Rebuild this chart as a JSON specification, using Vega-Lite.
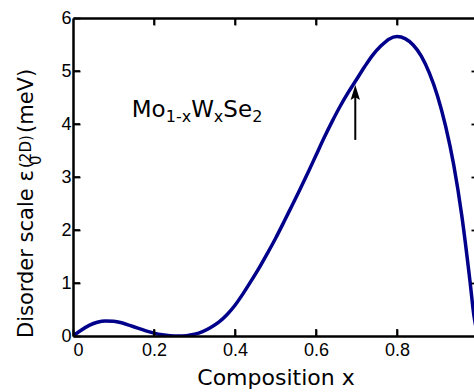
{
  "$schema": "https://vega.github.io/schema/vega-lite/v6.json",
  "width": 405,
  "height": 318,
  "autosize": "none",
  "padding": {"left": 73, "top": 18, "right": 0, "bottom": 56},
  "background": "white",
  "config": {
    "view": {"stroke": null},
    "axis": {"grid": false}
  },
  "datasets": {
    "curve": [
      {"x": 0, "y": 0}, {"x": 0.02, "y": 0.11}, {"x": 0.04, "y": 0.2}, {"x": 0.06, "y": 0.26},
      {"x": 0.08, "y": 0.285}, {"x": 0.1, "y": 0.28}, {"x": 0.12, "y": 0.25}, {"x": 0.14, "y": 0.2},
      {"x": 0.16, "y": 0.148}, {"x": 0.18, "y": 0.098}, {"x": 0.2, "y": 0.055}, {"x": 0.22, "y": 0.023},
      {"x": 0.24, "y": 0.005}, {"x": 0.26, "y": 0.0}, {"x": 0.28, "y": 0.006}, {"x": 0.3, "y": 0.032},
      {"x": 0.32, "y": 0.082}, {"x": 0.34, "y": 0.16}, {"x": 0.36, "y": 0.26}, {"x": 0.38, "y": 0.4},
      {"x": 0.4, "y": 0.58}, {"x": 0.42, "y": 0.8}, {"x": 0.44, "y": 1.04}, {"x": 0.46, "y": 1.29},
      {"x": 0.48, "y": 1.56}, {"x": 0.5, "y": 1.84}, {"x": 0.52, "y": 2.14}, {"x": 0.54, "y": 2.45},
      {"x": 0.56, "y": 2.76}, {"x": 0.58, "y": 3.08}, {"x": 0.6, "y": 3.41}, {"x": 0.62, "y": 3.74},
      {"x": 0.64, "y": 4.05}, {"x": 0.66, "y": 4.34}, {"x": 0.68, "y": 4.6}, {"x": 0.7, "y": 4.84},
      {"x": 0.72, "y": 5.08}, {"x": 0.74, "y": 5.3}, {"x": 0.76, "y": 5.47}, {"x": 0.78, "y": 5.6},
      {"x": 0.8, "y": 5.65}, {"x": 0.82, "y": 5.61}, {"x": 0.84, "y": 5.49}, {"x": 0.86, "y": 5.28},
      {"x": 0.88, "y": 4.96}, {"x": 0.9, "y": 4.53}, {"x": 0.92, "y": 3.96}, {"x": 0.94, "y": 3.23},
      {"x": 0.96, "y": 2.27}, {"x": 0.98, "y": 1.05}, {"x": 0.99, "y": 0.38}, {"x": 1.0, "y": 0}
    ],
    "arrow": [{"x": 0.697, "y0": 3.7, "y1": 4.56}],
    "tickvals_x": [{"v": 0.2}, {"v": 0.4}, {"v": 0.6}, {"v": 0.8}],
    "tickvals_y": [{"v": 1}, {"v": 2}, {"v": 3}, {"v": 4}, {"v": 5}],
    "ylab_main": [
      {"t": "Disorder scale ε", "x": -0.0976, "y": -0.038},
      {"t": "(meV)", "x": -0.0976, "y": 3.83}
    ],
    "ylab_small": [
      {"t": "0", "x": -0.078, "y": 3.226},
      {"t": "(2D)", "x": -0.1038, "y": 3.17}
    ],
    "formula_main": [
      {"t": "Mo", "x": 0.1451, "y": 4.13},
      {"t": "W", "x": 0.2917, "y": 4.13},
      {"t": "Se", "x": 0.3712, "y": 4.13}
    ],
    "formula_sub": [
      {"t": "1-x", "x": 0.2289, "y": 4.03},
      {"t": "x", "x": 0.3478, "y": 4.03},
      {"t": "2", "x": 0.4424, "y": 4.03}
    ]
  },
  "layer": [
    {
      "data": {"name": "curve"},
      "mark": {"type": "line", "color": "#00008B", "strokeWidth": 3.5, "interpolate": "monotone", "clip": true},
      "encoding": {
        "x": {"field": "x", "type": "quantitative", "scale": {"domain": [0, 1]},
          "axis": {"orient": "bottom", "values": [0, 0.2, 0.4, 0.6, 0.8], "format": "~g", "title": "Composition x",
            "ticks": true, "tickSize": -7, "tickColor": "black", "tickWidth": 1.8, "zindex": 2,
            "domainColor": "black", "domainWidth": 2.5,
            "labelFont": "Liberation Sans", "labelFontSize": 18, "labelColor": "black", "labelPadding": 12,
            "titleFont": "DejaVu Sans", "titleFontSize": 22, "titleFontWeight": "normal", "titleColor": "black", "titlePadding": 8}},
        "y": {"field": "y", "type": "quantitative", "scale": {"domain": [0, 6]},
          "axis": {"orient": "left", "values": [0, 1, 2, 3, 4, 5, 6], "title": null,
            "ticks": true, "tickSize": -7, "tickColor": "black", "tickWidth": 1.8, "zindex": 2,
            "domainColor": "black", "domainWidth": 2.5,
            "labelFont": "Liberation Sans", "labelFontSize": 18, "labelColor": "black", "labelPadding": 9}}
      }
    },
    {
      "data": {"name": "arrow"},
      "mark": {"type": "rule", "color": "black", "strokeWidth": 2},
      "encoding": {
        "x": {"field": "x", "type": "quantitative", "scale": {"domain": [0, 1]},
          "axis": {"orient": "top", "labels": false, "title": null, "values": [0.2, 0.4, 0.6, 0.8],
            "ticks": true, "tickSize": -7, "tickColor": "black", "tickWidth": 1.8, "zindex": 2,
            "domainColor": "black", "domainWidth": 2.5}},
        "y": {"field": "y0", "type": "quantitative", "scale": {"domain": [0, 6]},
          "axis": {"orient": "right", "labels": false, "title": null, "values": [1, 2, 3, 4, 5],
            "ticks": true, "tickSize": -7, "tickColor": "black", "tickWidth": 1.8, "zindex": 2,
            "domainColor": "black", "domainWidth": 2.5}},
        "y2": {"field": "y1"}
      }
    },
    {
      "data": {"name": "tickvals_x"},
      "mark": {"type": "tick", "orient": "vertical", "size": 14, "thickness": 1.6, "color": "black", "opacity": 1, "clip": true},
      "encoding": {
        "x": {"field": "v", "type": "quantitative", "scale": {"domain": [0, 1]}, "axis": null},
        "y": {"datum": 0, "type": "quantitative", "scale": {"domain": [0, 6]}, "axis": null}
      }
    },
    {
      "data": {"name": "tickvals_x"},
      "mark": {"type": "tick", "orient": "vertical", "size": 14, "thickness": 1.6, "color": "black", "opacity": 1, "clip": true},
      "encoding": {
        "x": {"field": "v", "type": "quantitative", "scale": {"domain": [0, 1]}, "axis": null},
        "y": {"datum": 6, "type": "quantitative", "scale": {"domain": [0, 6]}, "axis": null}
      }
    },
    {
      "data": {"name": "tickvals_y"},
      "mark": {"type": "tick", "orient": "horizontal", "size": 14, "thickness": 1.6, "color": "black", "opacity": 1, "clip": true},
      "encoding": {
        "x": {"datum": 0, "type": "quantitative", "scale": {"domain": [0, 1]}, "axis": null},
        "y": {"field": "v", "type": "quantitative", "scale": {"domain": [0, 6]}, "axis": null}
      }
    },
    {
      "data": {"name": "arrow"},
      "mark": {"type": "point", "shape": "M0,-1L0.5,0.6L0,0.3L-0.5,0.6Z", "filled": true, "color": "black", "opacity": 1, "size": 350},
      "encoding": {
        "x": {"field": "x", "type": "quantitative", "scale": {"domain": [0, 1]}, "axis": null},
        "y": {"field": "y1", "type": "quantitative", "scale": {"domain": [0, 6]}, "axis": null}
      }
    },
    {
      "data": {"name": "ylab_main"},
      "mark": {"type": "text", "font": "DejaVu Sans", "fontSize": 21, "angle": 270, "align": "left", "baseline": "alphabetic", "color": "black"},
      "encoding": {
        "x": {"field": "x", "type": "quantitative", "scale": {"domain": [0, 1]}, "axis": null},
        "y": {"field": "y", "type": "quantitative", "scale": {"domain": [0, 6]}, "axis": null},
        "text": {"field": "t"}
      }
    },
    {
      "data": {"name": "ylab_small"},
      "mark": {"type": "text", "font": "DejaVu Sans", "fontSize": 15, "angle": 270, "align": "left", "baseline": "alphabetic", "color": "black"},
      "encoding": {
        "x": {"field": "x", "type": "quantitative", "scale": {"domain": [0, 1]}, "axis": null},
        "y": {"field": "y", "type": "quantitative", "scale": {"domain": [0, 6]}, "axis": null},
        "text": {"field": "t"}
      }
    },
    {
      "data": {"name": "formula_main"},
      "mark": {"type": "text", "font": "DejaVu Sans", "fontSize": 23, "align": "left", "baseline": "alphabetic", "color": "black"},
      "encoding": {
        "x": {"field": "x", "type": "quantitative", "scale": {"domain": [0, 1]}, "axis": null},
        "y": {"field": "y", "type": "quantitative", "scale": {"domain": [0, 6]}, "axis": null},
        "text": {"field": "t"}
      }
    },
    {
      "data": {"name": "formula_sub"},
      "mark": {"type": "text", "font": "DejaVu Sans", "fontSize": 16, "align": "left", "baseline": "alphabetic", "color": "black"},
      "encoding": {
        "x": {"field": "x", "type": "quantitative", "scale": {"domain": [0, 1]}, "axis": null},
        "y": {"field": "y", "type": "quantitative", "scale": {"domain": [0, 6]}, "axis": null},
        "text": {"field": "t"}
      }
    }
  ],
  "resolve": {"axis": {"x": "independent", "y": "independent"}}
}
